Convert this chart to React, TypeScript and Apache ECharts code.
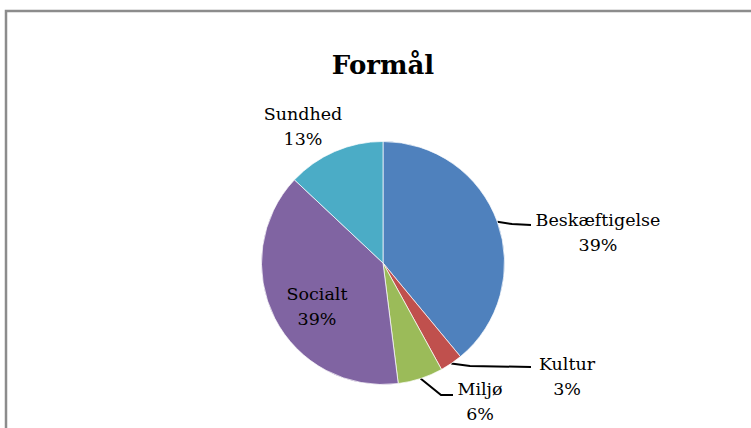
import React, { useEffect, useRef } from "react";
import * as echarts from "echarts";

const categories = ["Beskæftigelse", "Kultur", "Miljø", "Socialt", "Sundhed"];
const values = [39, 3, 6, 39, 13];
const colors = ["#4F81BD", "#C0504D", "#9BBB59", "#8064A2", "#4BACC6"];

// label layout (text block centres) and leader line bends
const labelPos: [number, number][] = [
  [598, 232],
  [567, 376],
  [480, 401],
  [317, 306],
  [303, 126],
];
const linePts: ([number, number][] | null)[] = [
  [[512, 224], [531, 225]],
  [[470, 366], [531, 367]],
  [[441, 395], [453, 395]],
  null,
  null,
];

export default function App() {
  const ref = useRef<HTMLDivElement>(null);
  useEffect(() => {
    if (!ref.current) return;
    const chart = echarts.init(ref.current, undefined, { renderer: "svg" });
    const labelFont = {
      fontFamily: "DejaVu Serif",
      fontSize: 17.5,
      lineHeight: 25,
      color: "#000",
    };
    chart.setOption({
      animation: false,
      backgroundColor: "#fff",
      title: {
        text: "Formål",
        left: 378,
        top: 47,
        textAlign: "center",
        textStyle: {
          fontFamily: "DejaVu Serif",
          fontWeight: "bold",
          fontSize: 26,
          color: "#000",
        },
      },
      graphic: [
        {
          type: "rect",
          shape: { x: 6, y: 11, width: 900, height: 600 },
          style: { fill: "none", stroke: "#8c8c8c", lineWidth: 2.5 },
          silent: true,
        },
      ],
      series: [
        {
          type: "pie",
          center: [383, 263],
          radius: 121.5,
          startAngle: 90,
          clockwise: true,
          avoidLabelOverlap: false,
          itemStyle: { borderColor: "#fff", borderWidth: 0.7 },
          label: {
            show: true,
            position: "outside",
            formatter: (p: any) => `${p.name}\n${p.value}%`,
            align: "center",
            ...labelFont,
          },
          labelLine: {
            show: true,
            length: 5,
            length2: 20,
            lineStyle: { color: "#000", width: 2 },
          },
          labelLayout: (params: any) => {
            const i = params.dataIndex;
            const out: any = {
              x: labelPos[i][0],
              y: labelPos[i][1],
              align: "center",
              verticalAlign: "middle",
            };
            const bend = linePts[i];
            if (bend && params.labelLinePoints) {
              out.labelLinePoints = [params.labelLinePoints[0], ...bend];
            }
            return out;
          },
          data: categories.map((c, i) => ({
            name: c,
            value: values[i],
            itemStyle: { color: colors[i] },
            label: i === 3 ? { position: "inside" } : undefined,
            labelLine: { show: linePts[i] !== null },
          })),
        },
      ],
    });
    return () => chart.dispose();
  }, []);
  return (
    <div
      ref={ref}
      style={{ position: "fixed", left: 0, top: 0, width: 751, height: 428 }}
    />
  );
}
